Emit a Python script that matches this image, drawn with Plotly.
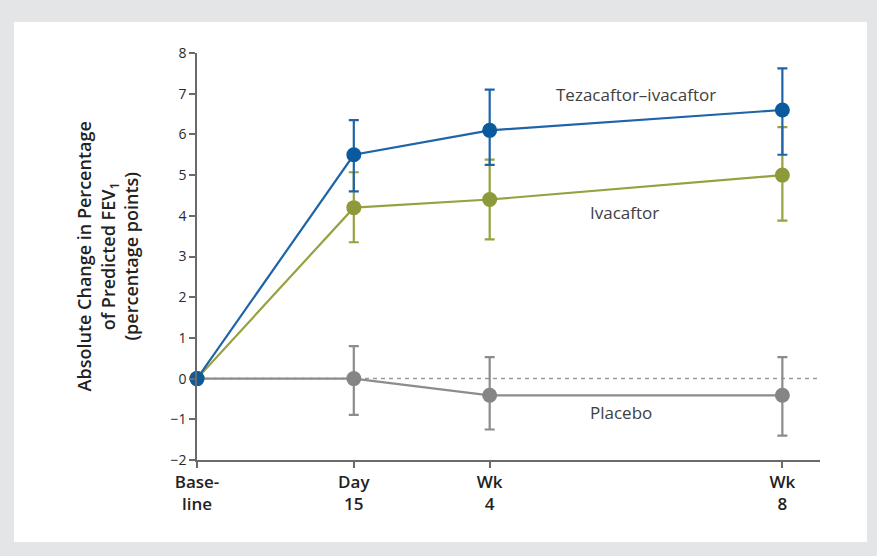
import plotly.graph_objects as go

# Data (x in study days)
days = [0, 15, 28, 56]
tick_text = ["Base-<br>line", "Day<br>15", "Wk<br>4", "Wk<br>8"]

teza_mean = [0, 5.5, 6.1, 6.6]
teza_hi = [0, 6.35, 7.1, 7.62]
teza_lo = [0, 4.6, 5.25, 5.5]

iva_mean = [0, 4.2, 4.4, 5.0]
iva_hi = [0, 5.07, 5.38, 6.18]
iva_lo = [0, 3.35, 3.42, 3.88]

plc_mean = [0, 0, -0.41, -0.41]
plc_hi = [0, 0.8, 0.53, 0.53]
plc_lo = [0, -0.89, -1.25, -1.4]

FONT = "Open Sans, Lato, sans-serif"

BLUE = "#1f63a8"
BLUE_M = "#0b5a9e"
OLIVE = "#97a13f"
OLIVE_M = "#8e9a3a"
GREY = "#8c8c8c"
GREY_M = "#858585"

fig = go.Figure()

def add_series(mean, hi, lo, line_c, mark_c, name):
    fig.add_trace(go.Scatter(
        x=days, y=mean, mode="lines+markers", name=name,
        line=dict(color=line_c, width=2.2),
        marker=dict(color=mark_c, size=15),
        error_y=dict(type="data", symmetric=False,
                     array=[h - m for h, m in zip(hi, mean)],
                     arrayminus=[m - l for m, l in zip(mean, lo)],
                     color=line_c, thickness=2.2, width=5),
        showlegend=False, cliponaxis=False,
    ))

add_series(plc_mean, plc_hi, plc_lo, GREY, GREY_M, "Placebo")
add_series(iva_mean, iva_hi, iva_lo, OLIVE, OLIVE_M, "Ivacaftor")
add_series(teza_mean, teza_hi, teza_lo, BLUE, BLUE_M, "Tezacaftor–ivacaftor")

shapes = [
    # white panel
    dict(type="rect", xref="paper", yref="paper", x0=-0.2937, x1=1.0754,
         y0=-0.2015, y1=1.0762, fillcolor="white", line=dict(width=0), layer="below"),
    # dashed zero line
    dict(type="line", xref="x", yref="y", x0=0, x1=59.4, y0=0, y1=0,
         line=dict(color="#9a9a9a", width=1.5, dash="4px,4px"), layer="below"),
]

LBL = dict(family=FONT, size=17, color="#404040")
annotations = [
    dict(text="Tezacaftor–ivacaftor", x=42.0, y=6.98, xref="x", yref="y",
         showarrow=False, font=LBL),
    dict(text="Ivacaftor", x=40.9, y=4.08, xref="x", yref="y",
         showarrow=False, font=LBL),
    dict(text="Placebo", x=40.6, y=-0.84, xref="x", yref="y",
         showarrow=False, font=LBL),
    dict(text="Absolute Change in Percentage<br>of Predicted FEV<sub>1</sub><br>(percentage points)",
         x=-0.143, y=0.50, xref="paper", yref="paper", textangle=-90,
         xanchor="center", yanchor="middle",
         showarrow=False, font=dict(family=FONT, size=18, color="#222222", weight=600)),
]

fig.update_layout(
    width=877, height=556,
    margin=dict(l=197, r=57, t=53, b=96),
    paper_bgcolor="#e4e5e7", plot_bgcolor="white",
    shapes=shapes, annotations=annotations,
    font=dict(family=FONT, color="#222222"),
    xaxis=dict(range=[0, 59.6], tickmode="array", tickvals=days, ticktext=tick_text,
               showgrid=False, zeroline=False, showline=True, linecolor="#6a6a6a",
               linewidth=1.5, ticks="outside", ticklen=6, tickcolor="#6a6a6a",
               tickwidth=1.5,
               tickfont=dict(family=FONT, size=17, color="#222222", weight=600)),
    yaxis=dict(range=[-2, 8], tickmode="array", tickvals=list(range(-2, 9)),
               ticktext=["\u22122", "\u22121", "0", "1", "2", "3", "4", "5", "6", "7", "8"],
               showgrid=False, zeroline=False, showline=True, linecolor="#6a6a6a",
               linewidth=1.5, ticks="outside", ticklen=6, tickcolor="#6a6a6a",
               tickwidth=1.5, tickfont=dict(family=FONT, size=14, color="#2a2a2a")),
)

fig.write_html(
    "out.html",
    config={"displayModeBar": False},
    post_script="document.body.style.margin='0';document.body.style.background='#e4e5e7';",
)
